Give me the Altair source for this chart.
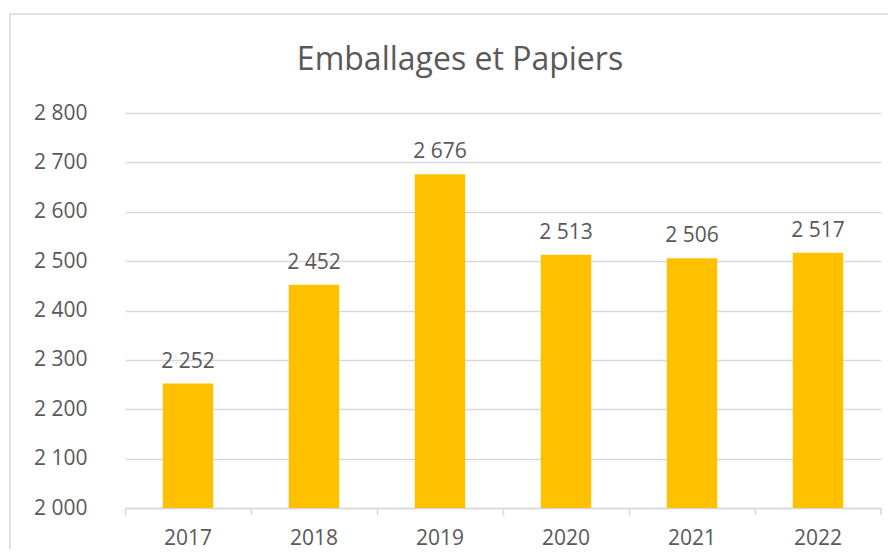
import altair as alt
import pandas as pd

years = ["2017", "2018", "2019", "2020", "2021", "2022"]
values = [2252, 2452, 2676, 2513, 2506, 2517]
y_ticks = [2000, 2100, 2200, 2300, 2400, 2500, 2600, 2700, 2800]
title_text = "Emballages et Papiers"

FONT = "Open Sans"
GRAY = "#595959"
GRID = "#D9D9D9"
BAR = "#FFC000"

df = pd.DataFrame({
    "year": years,
    "value": values,
    "label": [f"{v:,}".replace(",", " ") for v in values],
})
one = pd.DataFrame({"a": [0]})

W, H = 756, 395
PAD_L, PAD_T, PAD_R, PAD_B = 117, 105, 7, 41

x_enc = alt.X(
    "year:N",
    sort=years,
    title=None,
    scale=alt.Scale(paddingInner=0, paddingOuter=0),
    axis=alt.Axis(
        labelAngle=0, labelFont=FONT, labelFontSize=21, labelColor=GRAY,
        domainColor=GRID, domainWidth=1.5, tickColor=GRID, tickWidth=1.5,
        tickSize=7, bandPosition=0, labelPadding=12, grid=False,
    ),
)
y_enc = alt.Y(
    "value:Q",
    title=None,
    scale=alt.Scale(domain=[2000, 2800], nice=False, zero=False),
    axis=alt.Axis(
        values=y_ticks, labelExpr="replace(format(datum.value, ','), ',', ' ')",
        labelFont=FONT, labelFontSize=21, labelColor=GRAY, labelPadding=38,
        domain=False, ticks=False, gridColor=GRID, gridWidth=1.5,
    ),
)

bars = alt.Chart(df).mark_bar(color=BAR, width=alt.RelativeBandSize(0.4)).encode(
    x=x_enc, y=y_enc, y2=alt.datum(2000)
)
labels = alt.Chart(df).mark_text(
    font=FONT, fontSize=21, color=GRAY, baseline="alphabetic", dy=-16
).encode(x=alt.X("year:N", sort=years), y="value:Q", text="label:N")

right_tick = alt.Chart(one).mark_rule(color=GRID, strokeWidth=1.5).encode(
    x=alt.value(W), y=alt.value(H), y2=alt.value(H + 7)
)
border = alt.Chart(one).mark_rect(fill=None, stroke=GRID, strokeWidth=1.5).encode(
    x=alt.value(-115), x2=alt.value(W + 60), y=alt.value(-99), y2=alt.value(H + 80)
)
title = alt.Chart(one).mark_text(
    font=FONT, fontSize=32, color=GRAY, baseline="alphabetic", align="center"
).encode(x=alt.value(335), y=alt.value(-43), text=alt.value(title_text))

chart = alt.layer(border, bars, labels, right_tick, title).properties(
    width=W, height=H,
    autosize=alt.AutoSizeParams(type="none"),
    padding={"left": PAD_L, "top": PAD_T, "right": PAD_R, "bottom": PAD_B},
).configure(background="white").configure_view(stroke=None)

chart.save("out.html", embed_options={"renderer": "svg", "actions": False})
